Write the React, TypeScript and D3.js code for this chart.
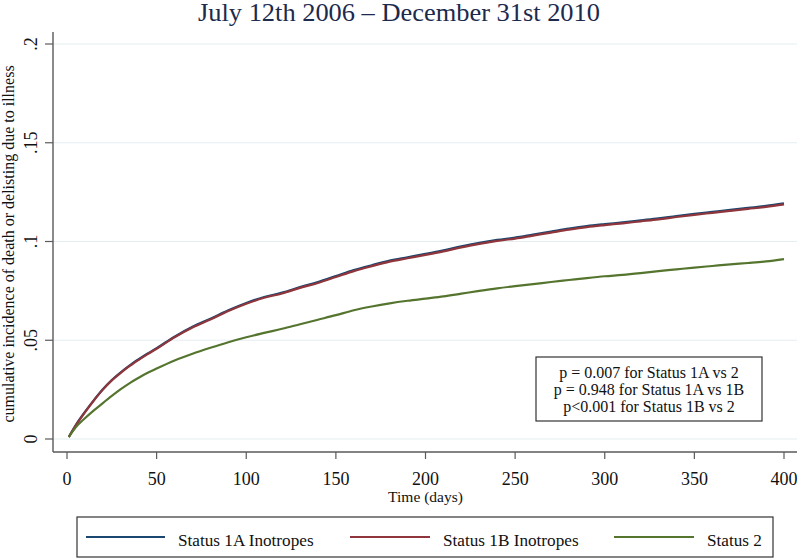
import React from "react";
import * as d3 from "d3";

const titleText = "July 12th 2006 \u2013 December 31st 2010";
const yTitle = "cumulative incidence of death or delisting due to illness";
const xTitle = "Time (days)";

const xTicks = [0, 50, 100, 150, 200, 250, 300, 350, 400];
const yTicks = [0, 0.05, 0.1, 0.15, 0.2];
const yTickLabels = ["0", ".05", ".1", ".15", ".2"];

const days = [1, 5, 10, 15, 20, 25, 30, 35, 40, 45, 50, 60, 70, 80, 90, 100, 110, 120, 130, 140, 150, 160, 170, 180, 190, 200, 210, 220, 230, 240, 250, 260, 270, 280, 290, 300, 310, 320, 330, 340, 350, 360, 370, 380, 390, 400];

const status1A = [0.001, 0.0072, 0.0137, 0.0197, 0.0252, 0.0299, 0.0338, 0.0373, 0.0404, 0.0433, 0.046, 0.0518, 0.0568, 0.0609, 0.0652, 0.0689, 0.0719, 0.0741, 0.0769, 0.0795, 0.0825, 0.0855, 0.088, 0.0903, 0.092, 0.0937, 0.0955, 0.0975, 0.0993, 0.1008, 0.102, 0.1035, 0.105, 0.1065, 0.1078, 0.1088, 0.1097, 0.1107, 0.1117, 0.1129, 0.114, 0.115, 0.116, 0.117, 0.118, 0.1193];
const status1B = [0.001, 0.007, 0.0135, 0.0195, 0.025, 0.0297, 0.0335, 0.037, 0.0401, 0.043, 0.0457, 0.0515, 0.0565, 0.0605, 0.0648, 0.0685, 0.0715, 0.0737, 0.0765, 0.079, 0.082, 0.085, 0.0875, 0.0898, 0.0915, 0.0932, 0.095, 0.097, 0.0988, 0.1003, 0.1015, 0.103, 0.1045, 0.106, 0.1073, 0.1083, 0.1092, 0.1102, 0.1112, 0.1124, 0.1135, 0.1145, 0.1155, 0.1165, 0.1175, 0.1188];
const status2 = [0.001, 0.006, 0.0105, 0.0145, 0.0182, 0.0218, 0.0252, 0.0283, 0.031, 0.0335, 0.0357, 0.0398, 0.0432, 0.0462, 0.049, 0.0515, 0.0537, 0.0558, 0.0581, 0.0604, 0.0627, 0.0652, 0.0671, 0.0687, 0.07, 0.0711, 0.0722, 0.0736, 0.075, 0.0763, 0.0774, 0.0784, 0.0795, 0.0805, 0.0815, 0.0824, 0.0831, 0.084, 0.085, 0.0859, 0.0868, 0.0876, 0.0884, 0.0891, 0.0899, 0.0911];

const seriesNames = ["Status 1A Inotropes", "Status 1B Inotropes", "Status 2"];
const seriesColors = ["#1a476f", "#90353b", "#55752f"];
const seriesValues = [status1A, status1B, status2];

const pLines = ["p = 0.007 for Status 1A vs 2", "p = 0.948 for Status 1A vs 1B", "p<0.001 for Status 1B vs 2"];

export default function App() {
  const W = 800, H = 558;
  const x = d3.scaleLinear().domain([0, 400]).range([67, 784]);
  const y = d3.scaleLinear().domain([0, 0.2]).range([439, 44]);
  const axisX = 53, axisY = 452, plotRight = 797;
  const font = "'Liberation Serif', 'Times New Roman', serif";

  const line = d3.line<number>()
    .x((_, i) => x(days[i]))
    .y((d) => y(d))
    .curve(d3.curveMonotoneX);

  const legendItems = [
    { x1: 86, x2: 165, tx: 178 },
    { x1: 350, x2: 430, tx: 443 },
    { x1: 614, x2: 694, tx: 707 },
  ];

  return (
    <svg width={W} height={H} style={{ position: "absolute", left: 0, top: 0, background: "#fff" }} fontFamily={font}>
      <rect x={0} y={0} width={W} height={H} fill="#fff" />
      <text x={399} y={21} textAnchor="middle" fontSize={25} fill="#1c2a4d" textLength={402} lengthAdjust="spacingAndGlyphs">{titleText}</text>

      {/* gridlines */}
      {yTicks.map((t) => (
        <line key={"g" + t} x1={axisX} x2={plotRight} y1={y(t)} y2={y(t)} stroke="#e4edf0" strokeWidth={1.2} />
      ))}

      {/* axes */}
      <line x1={axisX} x2={axisX} y1={32} y2={axisY} stroke="#5a5a5a" strokeWidth={1.4} />
      <line x1={axisX} x2={plotRight} y1={axisY} y2={axisY} stroke="#5a5a5a" strokeWidth={1.4} />
      {yTicks.map((t, i) => (
        <g key={"yt" + t}>
          <line x1={45} x2={axisX} y1={y(t)} y2={y(t)} stroke="#5a5a5a" strokeWidth={1.2} />
          <text transform={`translate(37,${y(t)}) rotate(-90)`} textAnchor="middle" fontSize={18} fill="#111">{yTickLabels[i]}</text>
        </g>
      ))}
      {xTicks.map((t) => (
        <g key={"xt" + t}>
          <line x1={x(t)} x2={x(t)} y1={axisY} y2={459} stroke="#5a5a5a" strokeWidth={1.2} />
          <text x={x(t)} y={485} textAnchor="middle" fontSize={18} fill="#111">{t}</text>
        </g>
      ))}
      <text x={x(200)} y={502} textAnchor="middle" fontSize={15.5} fill="#111">{xTitle}</text>
      <text transform={`translate(14,244) rotate(-90)`} textAnchor="middle" fontSize={16} fill="#111">{yTitle}</text>

      {/* curves */}
      {seriesValues.map((vals, i) => (
        <path key={"s" + i} d={line(vals) || ""} fill="none" stroke={seriesColors[i]} strokeWidth={2.2} strokeLinejoin="round" />
      ))}

      {/* p-value box */}
      <rect x={536} y={357} width={226} height={64} fill="#fff" stroke="#333" strokeWidth={1.2} />
      {pLines.map((s, i) => (
        <text key={"p" + i} x={649} y={378 + i * 17} textAnchor="middle" fontSize={16} fill="#111">{s}</text>
      ))}

      {/* legend */}
      <rect x={77} y={517} width={696} height={40} fill="#fff" stroke="#333" strokeWidth={1.2} />
      {legendItems.map((it, i) => (
        <g key={"l" + i}>
          <line x1={it.x1} x2={it.x2} y1={537} y2={537} stroke={seriesColors[i]} strokeWidth={2} />
          <text x={it.tx} y={545.5} fontSize={17.2} fill="#111">{seriesNames[i]}</text>
        </g>
      ))}
    </svg>
  );
}
